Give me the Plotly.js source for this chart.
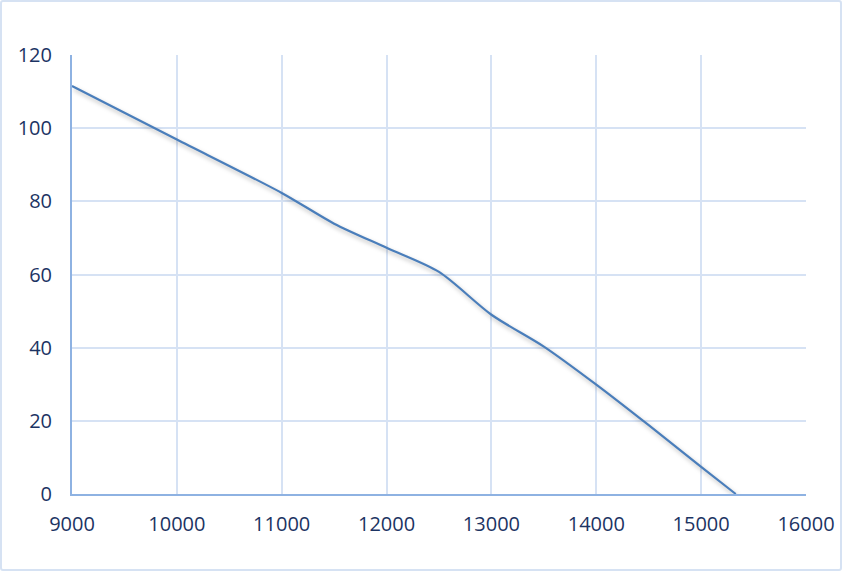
<!DOCTYPE html>
<html>
<head>
<meta charset="utf-8">
<script src="https://cdn.plot.ly/plotly-3.0.1.min.js"></script>
<style>
  html, body { margin: 0; padding: 0; background: #ffffff; }
  #wrap { position: relative; width: 842px; height: 571px; }
  #chart { width: 842px; height: 571px; }
  #frame { position: absolute; left: 0; top: 0; width: 842px; height: 571px; box-sizing: border-box;
           border: 2px solid #D6E2F3; border-radius: 3px; pointer-events: none; }
  #chart .scatterlayer path { filter: drop-shadow(2px 3px 2px rgba(0,0,0,0.28)); }
</style>
</head>
<body>
<div id="wrap">
  <div id="chart"></div>
  <div id="frame"></div>
</div>
<script>
// Data
const xValues = [9000, 10000, 11000, 11500, 12000, 12500, 13000, 13500, 14000, 14500, 15000, 15330];
const yValues = [111.5, 96.9, 82.3, 73.9, 67.3, 60.7, 49.0, 40.3, 29.9, 18.8, 7.4, 0];
const xTicks = [9000, 10000, 11000, 12000, 13000, 14000, 15000, 16000];
const yTicks = [0, 20, 40, 60, 80, 100, 120];

const textColor = '#1C3463';
const gridColor = '#D6E2F4';
const axisColor = '#8EB2E2';

const trace = {
  x: xValues,
  y: yValues,
  type: 'scatter',
  mode: 'lines',
  line: { color: '#4A7EBB', width: 2.2, shape: 'spline', smoothing: 0.8 },
  hoverinfo: 'x+y'
};

const layout = {
  width: 842,
  height: 571,
  margin: { l: 72, r: 36, t: 55, b: 77 },
  paper_bgcolor: '#ffffff',
  plot_bgcolor: '#ffffff',
  showlegend: false,
  font: { family: 'Open Sans, sans-serif', size: 20, color: textColor },
  xaxis: {
    range: [9000, 16000],
    tickvals: xTicks,
    ticktext: xTicks.map(String),
    showgrid: true,
    gridcolor: gridColor,
    gridwidth: 2,
    zeroline: false,
    showline: true,
    linecolor: axisColor,
    linewidth: 2,
    ticks: '',
    ticklabelstandoff: 11,
    tickfont: { family: 'Open Sans, sans-serif', size: 20, color: textColor }
  },
  yaxis: {
    range: [0, 120],
    tickvals: yTicks,
    ticktext: yTicks.map(String),
    showgrid: true,
    gridcolor: gridColor,
    gridwidth: 2,
    zeroline: false,
    showline: true,
    linecolor: axisColor,
    linewidth: 2,
    ticks: '',
    ticklabelstandoff: 14,
    tickfont: { family: 'Open Sans, sans-serif', size: 20, color: textColor }
  }
};

Plotly.newPlot('chart', [trace], layout, { displayModeBar: false, staticPlot: true });
</script>
</body>
</html>
